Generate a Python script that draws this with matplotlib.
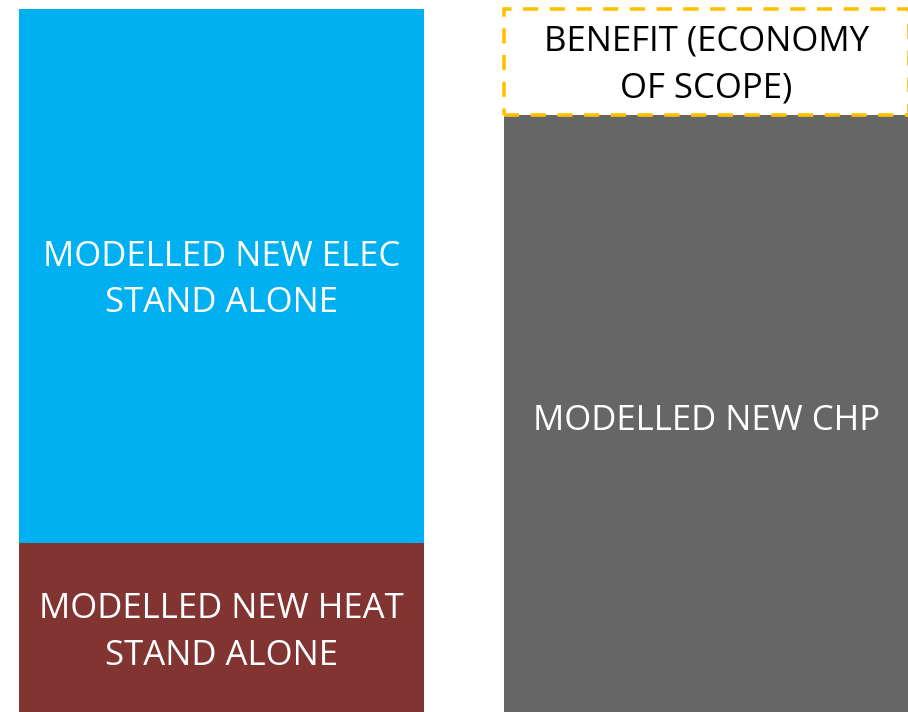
import matplotlib.pyplot as plt

# stacked values (arbitrary units)
categories = ["STAND ALONE", "CHP"]
heat = [169, 0]
elec = [534, 0]
chp = [0, 597]
benefit = [0, 106]

labels_left = ["MODELLED NEW HEAT\nSTAND ALONE", "MODELLED NEW ELEC\nSTAND ALONE"]
label_chp = "MODELLED NEW CHP"
label_benefit = "BENEFIT (ECONOMY\nOF SCOPE)"

plt.rcParams['font.family'] = ['Open Sans', 'DejaVu Sans']

fig = plt.figure(figsize=(9.08, 7.12), dpi=100)
ax = fig.add_axes([0, 0, 1, 1])

x = [0, 1]
w = 0.835

ax.bar(x[0], heat[0], width=w, color="#823433")
ax.bar(x[0], elec[0], width=w, bottom=heat[0], color="#00B0F0")
ax.bar(x[1], chp[1], width=w, color="#666666")
ax.bar(x[1], benefit[1], width=w, bottom=chp[1], facecolor="white",
       edgecolor="#FFC000", linewidth=2.6, linestyle=(0, (4.2, 3.2)))

fs = 25
ls = 1.48
ax.text(x[0], heat[0] / 2 - 5, labels_left[0], ha="center", va="center",
        color="white", fontsize=fs, linespacing=ls)
ax.text(x[0], heat[0] + elec[0] / 2 - 4, labels_left[1], ha="center", va="center",
        color="white", fontsize=fs, linespacing=ls)
ax.text(x[1], chp[1] / 2 - 7, label_chp, ha="center", va="center",
        color="white", fontsize=fs)
ax.text(x[1], chp[1] + benefit[1] / 2 - 3, label_benefit, ha="center", va="center",
        color="black", fontsize=fs, linespacing=ls)

ax.set_xlim(-0.4567, 1.4155)
ax.set_ylim(0, 712)
ax.axis("off")

fig.savefig("out.png", dpi=100)
